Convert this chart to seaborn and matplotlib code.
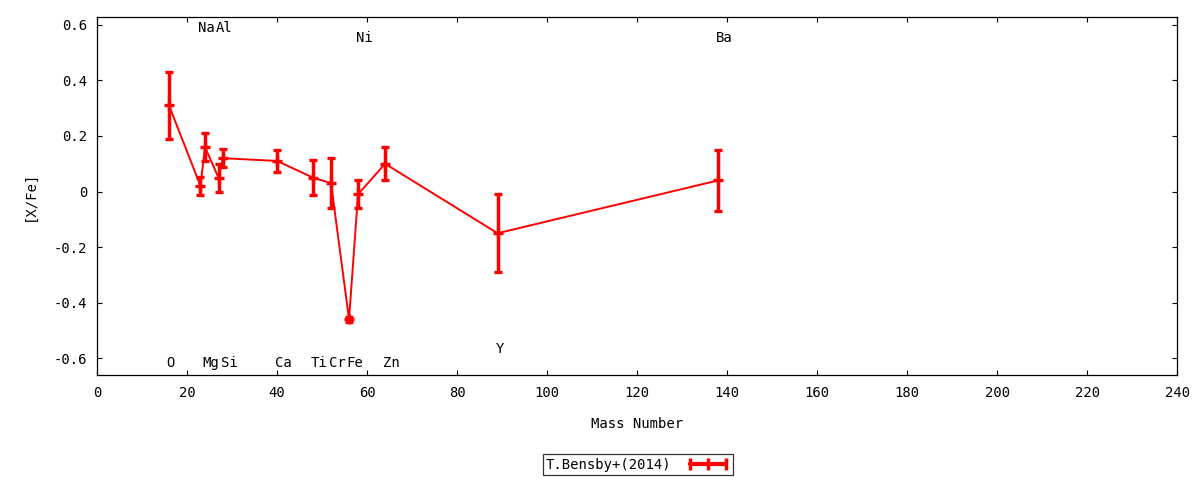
import matplotlib
matplotlib.use("Agg")
import matplotlib.pyplot as plt
from matplotlib.lines import Line2D
from matplotlib.ticker import FuncFormatter, MultipleLocator
import seaborn as sns
import pandas as pd

# ---- data ----
elements = ['O', 'Na', 'Mg', 'Al', 'Si', 'Ca', 'Ti', 'Cr', 'Fe', 'Ni', 'Zn', 'Y', 'Ba']
mass = [16, 23, 24, 27, 28, 40, 48, 52, 56, 58, 64, 89, 138]
xfe = [0.31, 0.02, 0.16, 0.05, 0.12, 0.11, 0.05, 0.03, -0.46, -0.01, 0.10, -0.15, 0.04]
err = [0.12, 0.032, 0.05, 0.05, 0.032, 0.04, 0.063, 0.09, 0.008, 0.05, 0.06, 0.14, 0.11]
label_y = [-0.618, 0.59, -0.618, 0.59, -0.618, -0.618, -0.618, -0.618, -0.618,
           0.552, -0.618, -0.566, 0.552]
series_name = 'T.Bensby+(2014)'

df = pd.DataFrame({'mass': mass, 'xfe': xfe, 'err': err})

sns.set_style("ticks")
plt.rcParams['font.family'] = ['DejaVu Sans Mono', 'DejaVu Sans']
plt.rcParams['font.size'] = 10
plt.rcParams['text.color'] = 'black'
plt.rcParams['axes.labelcolor'] = 'black'
plt.rcParams['xtick.color'] = 'black'
plt.rcParams['ytick.color'] = 'black'

fig = plt.figure(figsize=(12, 4.8), dpi=100)
ax = fig.add_axes([0.0808, 0.2188, 0.9003, 0.7458])

sns.lineplot(data=df, x='mass', y='xfe', color='red', lw=1.4, ax=ax,
             sort=False, legend=False)
ax.errorbar(df['mass'], df['xfe'], yerr=df['err'], fmt='+', color='red',
            ecolor='red', elinewidth=2.5, capsize=2.9, capthick=2.6,
            ms=7.2, mew=2.4)

for el, m, ly in zip(elements, mass, label_y):
    ax.text(m - 0.5, ly, el, ha='left', va='center', fontsize=10, color='black')

ax.set_xlim(0, 240)
ax.set_ylim(-0.660, 0.628)
ax.xaxis.set_major_locator(MultipleLocator(20))
ax.yaxis.set_major_locator(MultipleLocator(0.2))
ax.yaxis.set_major_formatter(FuncFormatter(lambda v, p: '%g' % round(v, 6)))
ax.tick_params(direction='in', length=3.3, width=0.8, top=True, right=True,
               labelsize=10, color='black', labelcolor='black')
ax.tick_params(axis='x', pad=8)
ax.tick_params(axis='y', pad=7)
for s in ax.spines.values():
    s.set_linewidth(0.9)
    s.set_color('black')

ax.set_xlabel('Mass Number', fontsize=10, labelpad=12, color='black')
ax.set_ylabel('[X/Fe]', fontsize=10, labelpad=12, color='black')

proxy = Line2D([], [], color='red', lw=3, marker='|', ms=9, mew=2.5)
leg = fig.legend([proxy], [series_name], loc='center',
                 bbox_to_anchor=(638 / 1200, 1 - 464.5 / 480),
                 markerfirst=False, numpoints=3, handlelength=3.2,
                 frameon=True, fancybox=False, edgecolor='black',
                 borderpad=0.25, fontsize=10, handletextpad=1.0,
                 borderaxespad=0)
leg.get_frame().set_linewidth(0.9)
for t in leg.get_texts():
    t.set_color('black')

fig.savefig('out.png', dpi=100)
